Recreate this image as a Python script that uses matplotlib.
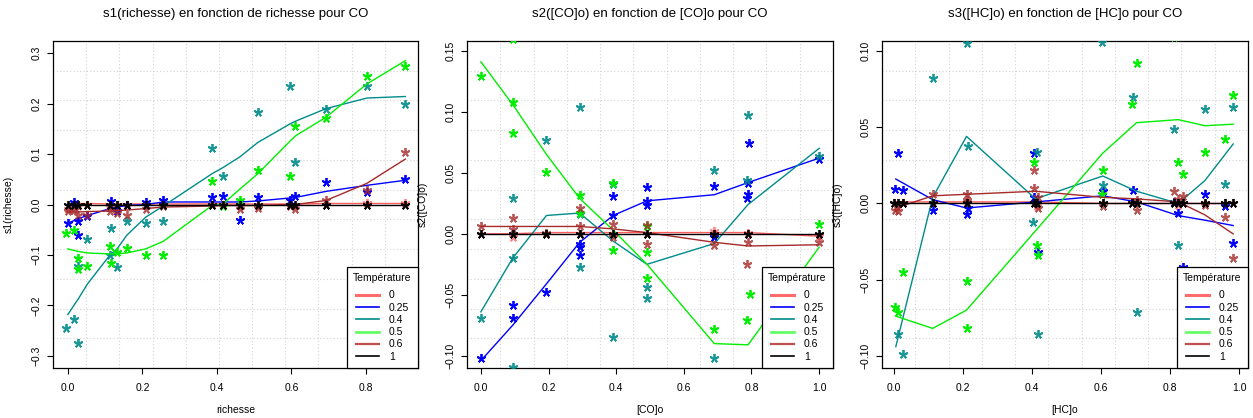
import numpy as np
import matplotlib
matplotlib.use('Agg')
import matplotlib.pyplot as plt
from matplotlib.lines import Line2D

plt.rcParams['font.family'] = ['Liberation Sans', 'DejaVu Sans']

############
# settings #
############
temperatures = ['0', '0.25', '0.4', '0.5', '0.6', '1']
colors = {'0': '#FF3333', '0.25': '#0000FF', '0.4': '#008B8B',
          '0.5': '#00EE00', '0.6': '#A52A2A', '1': '#000000'}
alphas = {'0': 0.6, '0.25': 1, '0.4': 0.9, '0.5': 1, '0.6': 0.8, '1': 1}

########################
# panel 1 : richesse   #
########################
s1_line_x = [0.0, 0.016, 0.028, 0.052, 0.113, 0.132, 0.158, 0.209, 0.256,
             0.387, 0.416, 0.461, 0.51, 0.597, 0.611, 0.693, 0.803, 0.906]
s1_line_0 = [0.002, 0.002, 0.002, 0.002, 0.001, 0.001, 0.001, 0.001, 0.001,
             0.001, 0.001, 0.001, 0.001, 0.001, 0.001, 0.002, 0.002, 0.002]
s1_line_025 = [-0.037, -0.032, -0.028, -0.022, -0.008, -0.005, -0.002, 0.0, 0.005,
               0.005, 0.005, 0.005, 0.007, 0.013, 0.014, 0.026, 0.038, 0.048]
s1_line_04 = [-0.218, -0.200, -0.187, -0.158, -0.100, -0.088, -0.061, -0.025, -0.003,
              0.061, 0.073, 0.094, 0.123, 0.160, 0.165, 0.190, 0.211, 0.214]
s1_line_05 = [-0.088, -0.091, -0.093, -0.096, -0.098, -0.098, -0.096, -0.088, -0.073,
              -0.002, 0.001, 0.030, 0.061, 0.126, 0.136, 0.173, 0.239, 0.285]
s1_line_06 = [-0.015, -0.015, -0.015, -0.014, -0.013, -0.012, -0.011, -0.008, -0.005,
              -0.003, -0.002, -0.002, -0.002, 0.0, 0.0, 0.008, 0.042, 0.090]
s1_line_1 = [0.0] * 18

s1_pts_0_x = s1_line_x
s1_pts_0_y = [-0.008, -0.005, -0.002, 0.0, -0.004, 0.0, -0.003, 0.0, 0.0,
              0.0, 0.0, -0.003, -0.002, 0.0, -0.002, 0.0, 0.002, 0.002]
s1_pts_025_x = [0.0, 0.016, 0.028, 0.028, 0.052, 0.117, 0.132, 0.158, 0.209, 0.256,
                0.387, 0.416, 0.461, 0.51, 0.597, 0.611, 0.693, 0.803, 0.906]
s1_pts_025_y = [-0.037, 0.005, -0.033, -0.060, -0.023, 0.007, -0.013, 0.0, 0.005, 0.008,
                0.015, 0.017, -0.030, 0.015, 0.008, 0.017, 0.044, 0.024, 0.050]
s1_pts_04_x = [-0.004, 0.016, 0.028, 0.028, 0.052, 0.113, 0.117, 0.132, 0.158, 0.209,
               0.256, 0.387, 0.416, 0.51, 0.597, 0.611, 0.693, 0.803, 0.906]
s1_pts_04_y = [-0.245, -0.226, -0.275, -0.121, -0.069, -0.101, -0.047, -0.124, -0.033, -0.037,
               -0.033, 0.111, 0.056, 0.183, 0.234, 0.085, 0.190, 0.234, 0.199]
s1_pts_05_x = [-0.004, 0.016, 0.028, 0.028, 0.052, 0.113, 0.117, 0.132, 0.158, 0.209,
               0.256, 0.387, 0.416, 0.461, 0.51, 0.597, 0.611, 0.693, 0.803, 0.906]
s1_pts_05_y = [-0.057, -0.050, -0.106, -0.127, -0.122, -0.083, -0.115, -0.094, -0.087, -0.101,
               -0.101, 0.046, -0.003, 0.009, 0.069, 0.056, 0.156, 0.172, 0.254, 0.274]
s1_pts_06_x = [0.0, 0.016, 0.028, 0.052, 0.113, 0.132, 0.158, 0.209, 0.256,
               0.387, 0.416, 0.461, 0.51, 0.597, 0.611, 0.693, 0.803, 0.906]
s1_pts_06_y = [-0.012, -0.011, -0.020, -0.020, -0.012, -0.016, -0.020, -0.008, -0.003,
               0.0, 0.0, -0.008, -0.006, -0.002, -0.008, 0.009, 0.028, 0.105]
s1_pts_1_x = s1_line_x
s1_pts_1_y = [0.0] * 18

########################
# panel 2 : [CO]o      #
########################
s2_line_x = [0.0, 0.094, 0.194, 0.292, 0.391, 0.491, 0.69, 0.79, 1.0]
s2_line_0 = [0.0, 0.0, 0.001, 0.001, 0.001, 0.001, 0.001, 0.001, -0.002]
s2_line_025 = [-0.104, -0.075, -0.041, -0.007, 0.015, 0.027, 0.032, 0.042, 0.062]
s2_line_04 = [-0.064, -0.020, 0.015, 0.017, -0.006, -0.025, -0.008, 0.024, 0.070]
s2_line_05 = [0.141, 0.106, 0.065, 0.029, 0.003, -0.025, -0.090, -0.091, -0.011]
s2_line_06 = [0.006, 0.006, 0.006, 0.006, 0.004, 0.001, -0.007, -0.010, -0.009]
s2_line_1 = [0.0] * 9

s2_pts_0_x = s2_line_x
s2_pts_0_y = [0.0, -0.003, 0.0, 0.0, 0.0, 0.0, 0.002, 0.001, -0.002]
s2_pts_025_x = [0.0, 0.094, 0.094, 0.194, 0.292, 0.292, 0.292, 0.391, 0.391, 0.491,
                0.491, 0.491, 0.69, 0.69, 0.787, 0.79, 0.79, 0.792, 1.0]
s2_pts_025_y = [-0.102, -0.058, -0.069, -0.048, -0.008, -0.011, -0.017, 0.015, 0.031, 0.038,
                0.027, 0.024, 0.039, -0.003, 0.029, 0.033, 0.042, 0.074, 0.061]
s2_pts_04_x = [0.0, 0.094, 0.094, 0.094, 0.194, 0.292, 0.292, 0.292, 0.391, 0.391,
               0.491, 0.491, 0.69, 0.69, 0.787, 0.79, 1.0]
s2_pts_04_y = [-0.069, -0.020, -0.109, 0.029, 0.077, 0.104, -0.027, 0.016, -0.085, 0.041,
               -0.044, -0.053, -0.102, 0.052, 0.044, 0.097, 0.064]
s2_pts_05_x = [0.0, 0.094, 0.094, 0.094, 0.194, 0.292, 0.292, 0.391, 0.391, 0.491,
               0.491, 0.491, 0.69, 0.787, 0.795, 1.0]
s2_pts_05_y = [0.129, 0.160, 0.108, 0.083, 0.051, 0.032, 0.017, 0.042, -0.013, 0.006,
               -0.015, -0.036, -0.078, -0.071, -0.049, 0.008]
s2_pts_06_x = [0.0, 0.094, 0.094, 0.194, 0.292, 0.292, 0.391, 0.391, 0.491, 0.491,
               0.69, 0.787, 0.79, 1.0]
s2_pts_06_y = [0.006, 0.013, 0.004, 0.001, 0.021, 0.006, 0.008, -0.003, 0.007, -0.008,
               -0.009, -0.025, -0.007, -0.007]
s2_pts_1_x = s2_line_x
s2_pts_1_y = [0.0] * 9

########################
# panel 3 : [HC]o      #
########################
s3_line_x = [0.005, 0.112, 0.21, 0.41, 0.605, 0.703, 0.824, 0.901, 0.983]
s3_line_0 = [0.001, 0.001, 0.001, 0.001, 0.0, 0.0, 0.0, 0.0, 0.0]
s3_line_025 = [0.016, 0.0025, -0.003, 0.001, 0.005, 0.001, -0.008, -0.011, -0.0145]
s3_line_04 = [-0.094, 0.004, 0.044, 0.003, 0.018, 0.008, 0.0, 0.015, 0.039]
s3_line_05 = [-0.074, -0.082, -0.070, -0.018, 0.033, 0.053, 0.055, 0.051, 0.052]
s3_line_06 = [-0.003, 0.005, 0.006, 0.008, 0.004, 0.003, 0.001, -0.0075, -0.020]
s3_line_1 = [0.0] * 9

s3_pts_1_x = [0.0, 0.012, 0.025, 0.112, 0.21, 0.406, 0.414, 0.605, 0.689, 0.703,
              0.812, 0.824, 0.839, 0.901, 0.959, 0.983]
s3_pts_1_y = [0.0] * 16
s3_pts_0_x = s3_pts_1_x
s3_pts_0_y = [0.0, -0.002, 0.0, 0.0, 0.001, 0.0, -0.002, 0.0, 0.0, 0.0,
              0.0, -0.001, 0.0, 0.0, 0.0, 0.0]
s3_pts_025_x = [0.003, 0.012, 0.025, 0.114, 0.21, 0.215, 0.406, 0.406, 0.418, 0.605,
                0.692, 0.812, 0.824, 0.837, 0.901, 0.959, 0.983]
s3_pts_025_y = [0.0097, 0.033, 0.0086, -0.004, -0.007, -0.003, 0.033, 0.004, -0.032, 0.008,
                0.009, 0.001, -0.006, -0.042, 0.006, -0.002, -0.026]
s3_pts_04_x = [0.012, 0.025, 0.114, 0.21, 0.215, 0.404, 0.414, 0.418, 0.602, 0.605,
               0.692, 0.703, 0.812, 0.824, 0.837, 0.901, 0.959, 0.983]
s3_pts_04_y = [-0.086, -0.099, 0.082, 0.105, 0.038, -0.012, 0.034, -0.086, 0.106, 0.012,
               0.070, -0.071, 0.049, -0.027, -0.091, 0.062, 0.013, 0.063]
s3_pts_05_x = [0.003, 0.012, 0.025, 0.21, 0.21, 0.406, 0.414, 0.418, 0.602, 0.605,
               0.689, 0.703, 0.812, 0.824, 0.837, 0.901, 0.959, 0.983]
s3_pts_05_y = [-0.068, -0.071, -0.045, -0.051, -0.082, 0.027, -0.027, -0.034, 0.006, 0.022,
               0.065, 0.092, 0.109, 0.027, 0.019, 0.034, 0.042, 0.071]
s3_pts_06_x = [0.003, 0.012, 0.114, 0.21, 0.21, 0.406, 0.406, 0.418, 0.418, 0.605,
               0.703, 0.703, 0.812, 0.824, 0.837, 0.901, 0.959, 0.983]
s3_pts_06_y = [-0.004, -0.005, 0.006, 0.006, 0.002, 0.022, 0.010, 0.004, -0.003, -0.002,
               -0.004, 0.002, 0.008, 0.003, 0.005, -0.001, -0.009, -0.036]

panels = [
    dict(title='s1(richesse) en fonction de richesse pour CO', xlabel='richesse',
         ylabel='s1(richesse)', xlim=(-0.04, 0.94), ylim=(-0.324, 0.324),
         xticks=[0, 0.2, 0.4, 0.6, 0.8], yticks=[-0.3, -0.2, -0.1, 0, 0.1, 0.2, 0.3], yfmt='%.1f',
         line_x=s1_line_x,
         lines=[s1_line_0, s1_line_025, s1_line_04, s1_line_05, s1_line_06, s1_line_1],
         pts=[(s1_pts_0_x, s1_pts_0_y), (s1_pts_025_x, s1_pts_025_y), (s1_pts_04_x, s1_pts_04_y),
              (s1_pts_05_x, s1_pts_05_y), (s1_pts_06_x, s1_pts_06_y), (s1_pts_1_x, s1_pts_1_y)]),
    dict(title='s2([CO]o) en fonction de [CO]o pour CO', xlabel='[CO]o',
         ylabel='s2([CO]o)', xlim=(-0.041, 1.041), ylim=(-0.110, 0.158),
         xticks=[0, 0.2, 0.4, 0.6, 0.8, 1.0], yticks=[-0.10, -0.05, 0, 0.05, 0.10, 0.15], yfmt='%.2f',
         line_x=s2_line_x,
         lines=[s2_line_0, s2_line_025, s2_line_04, s2_line_05, s2_line_06, s2_line_1],
         pts=[(s2_pts_0_x, s2_pts_0_y), (s2_pts_025_x, s2_pts_025_y), (s2_pts_04_x, s2_pts_04_y),
              (s2_pts_05_x, s2_pts_05_y), (s2_pts_06_x, s2_pts_06_y), (s2_pts_1_x, s2_pts_1_y)]),
    dict(title='s3([HC]o) en fonction de [HC]o pour CO', xlabel='[HC]o',
         ylabel='s3([HC]o)', xlim=(-0.035, 1.026), ylim=(-0.108, 0.1066),
         xticks=[0, 0.2, 0.4, 0.6, 0.8, 1.0], yticks=[-0.10, -0.05, 0, 0.05, 0.10], yfmt='%.2f',
         line_x=s3_line_x,
         lines=[s3_line_0, s3_line_025, s3_line_04, s3_line_05, s3_line_06, s3_line_1],
         pts=[(s3_pts_0_x, s3_pts_0_y), (s3_pts_025_x, s3_pts_025_y), (s3_pts_04_x, s3_pts_04_y),
              (s3_pts_05_x, s3_pts_05_y), (s3_pts_06_x, s3_pts_06_y), (s3_pts_1_x, s3_pts_1_y)]),
]

W, H = 1253, 418
fig = plt.figure(figsize=(W / 100, H / 100), dpi=100)
lefts = [53, 467, 882]
rights = [418, 833, 1248]
top, bottom = 41, 368

legend_handles = [
    Line2D([], [], color='#FF6A6A', lw=2.2),
    Line2D([], [], color='#0000FF', lw=1.2),
    Line2D([], [], color='#008B8B', lw=1.2),
    Line2D([], [], color='#66FF66', lw=2.0),
    Line2D([], [], color='#C05050', lw=1.6),
    Line2D([], [], color='#000000', lw=1.2),
]

for i, p in enumerate(panels):
    ax = fig.add_axes([lefts[i] / W, 1 - bottom / H, (rights[i] - lefts[i]) / W, (bottom - top) / H])
    ax.set_xlim(*p['xlim'])
    ax.set_ylim(*p['ylim'])

    # R style grid: 11 equal cells each way
    for gx in np.linspace(p['xlim'][0], p['xlim'][1], 12)[1:-1]:
        ax.axvline(gx, color='#D3D3D3', lw=0.8, ls=(0, (1, 2)), zorder=0)
    for gy in np.linspace(p['ylim'][0], p['ylim'][1], 12)[1:-1]:
        ax.axhline(gy, color='#D3D3D3', lw=0.8, ls=(0, (1, 2)), zorder=0)

    for k, t in enumerate(temperatures):
        px, py = p['pts'][k]
        ax.plot(px, py, ls='none', marker=(5, 2, 0), ms=6.5, mew=1.3,
                color=colors[t], alpha=alphas[t], zorder=2 + k)
        ax.plot(p['line_x'], p['lines'][k], color=colors[t], lw=1.0,
                alpha=min(1, alphas[t] + 0.2), zorder=2 + k)

    ax.set_xticks(p['xticks'])
    ax.set_xticklabels(['%.1f' % v for v in p['xticks']])
    ax.set_yticks(p['yticks'])
    ax.set_yticklabels([(p['yfmt'] % v).replace('-', '\u2212') for v in p['yticks']],
                       rotation=90, va='center')
    ax.tick_params(axis='x', labelsize=7.5, length=4, width=0.8, pad=7)
    ax.tick_params(axis='y', labelsize=7.5, length=4, width=0.8, pad=4)
    for s in ax.spines.values():
        s.set_linewidth(0.9)

    ax.text(0.5, 1 + 27 / (bottom - top), p['title'], transform=ax.transAxes,
            ha='center', va='center', fontsize=9.5)
    ax.set_xlabel(p['xlabel'], fontsize=7.5)
    ax.xaxis.set_label_coords(0.5, -(405 - bottom) / (bottom - top))
    ax.set_ylabel(p['ylabel'], fontsize=7.5)
    ax.yaxis.set_label_coords(-39 / (rights[i] - lefts[i]), 0.5)

    leg = ax.legend(legend_handles, temperatures, title='Température', loc='lower right',
                    fontsize=7.5, title_fontsize=7.5, frameon=True, fancybox=False,
                    borderaxespad=0, labelspacing=0.22, handlelength=2.2,
                    handletextpad=1.0, borderpad=0.6, framealpha=1)
    leg._legend_box.sep = 5
    leg.get_frame().set_edgecolor('black')
    leg.get_frame().set_linewidth(0.9)
    leg.set_zorder(20)

plt.savefig('out.png', dpi=100)
